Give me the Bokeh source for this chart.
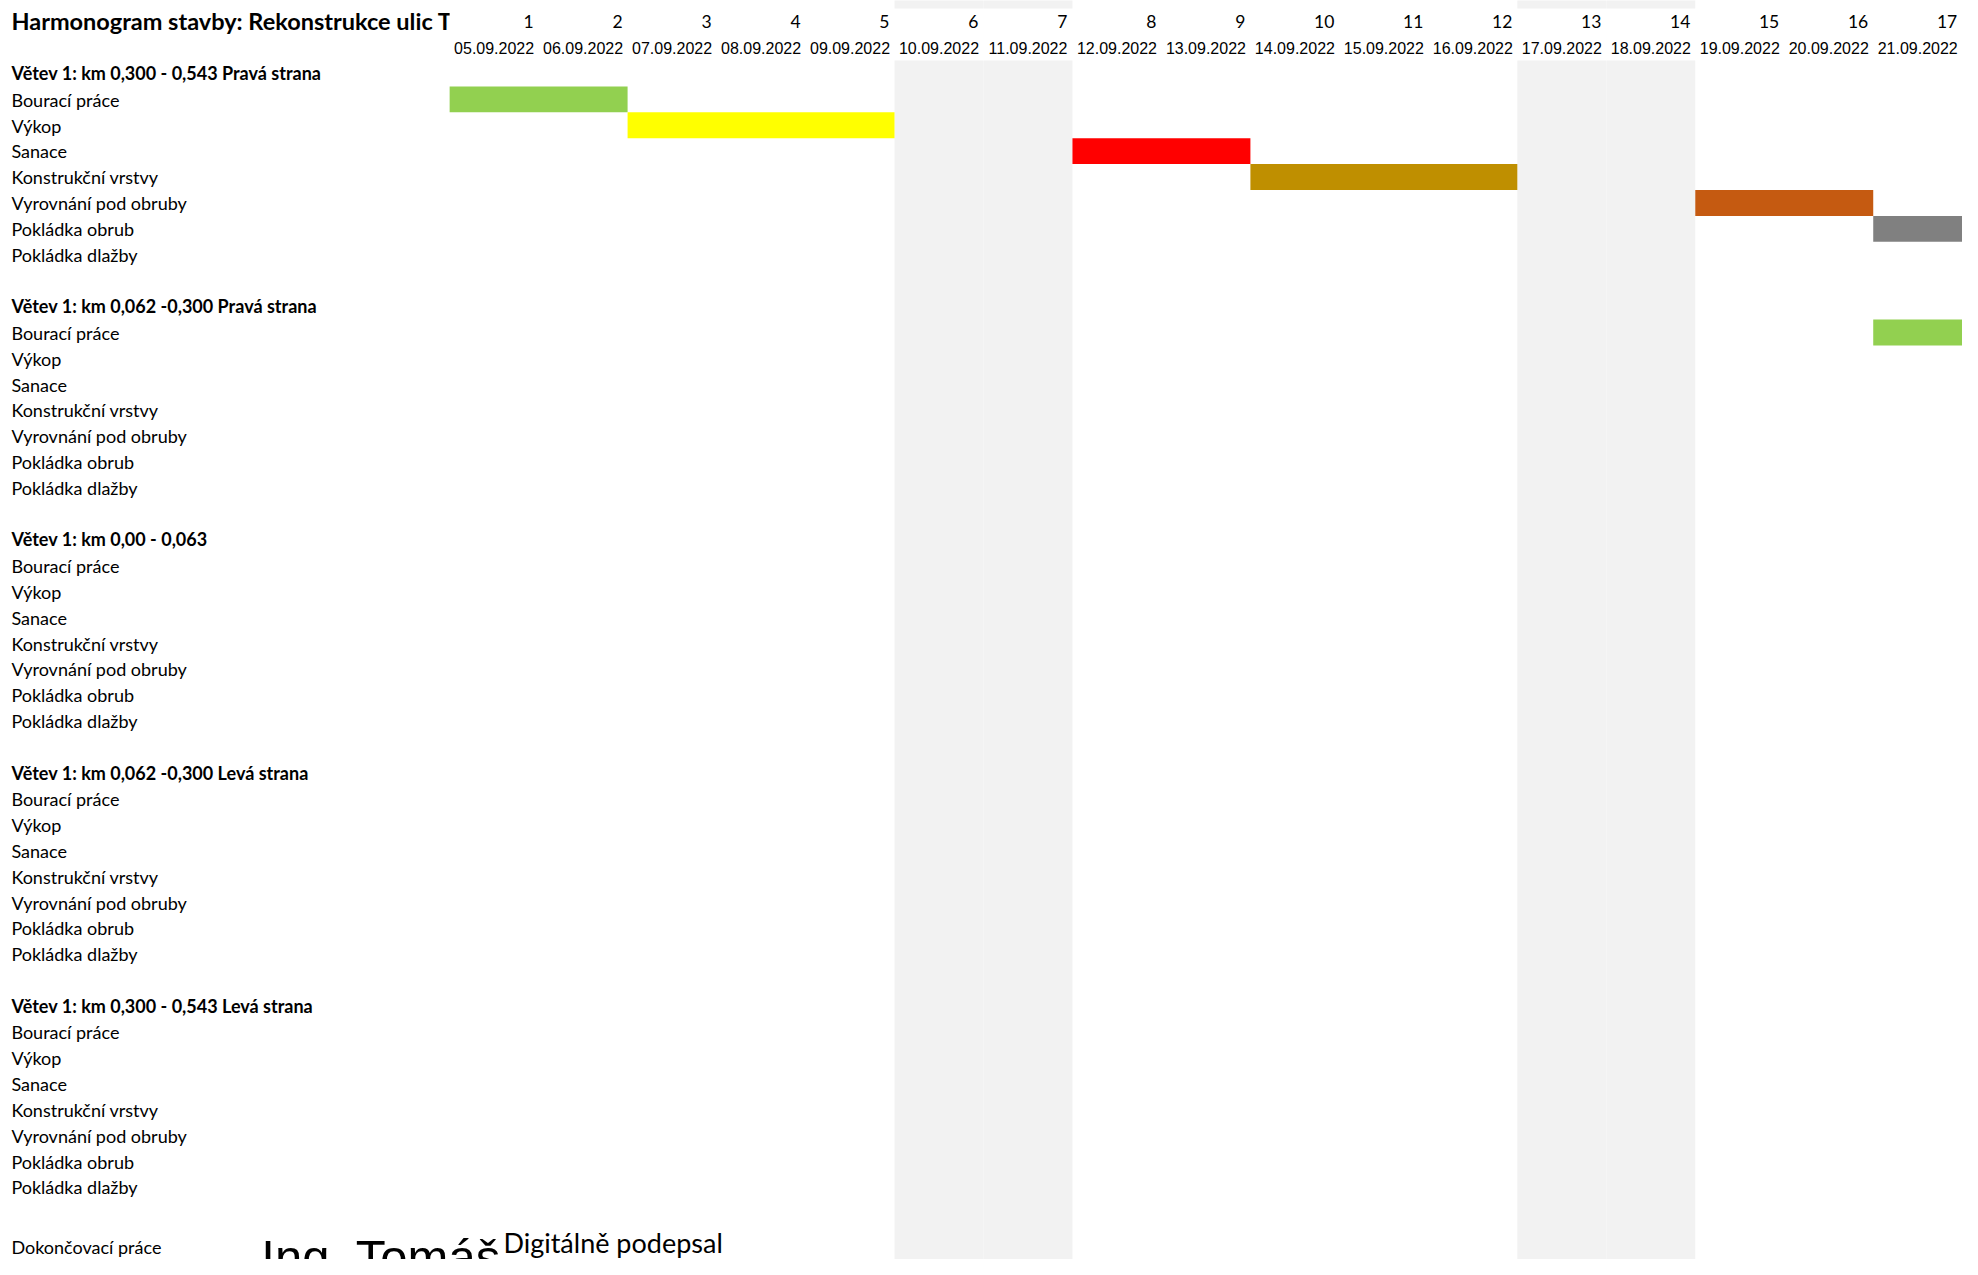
from bokeh.plotting import figure
from bokeh.models import Range1d, ColumnDataSource
from bokeh.core.properties import value
from bokeh.embed import file_html
from bokeh.resources import INLINE

# ---------------- data ----------------
title_text = "Harmonogram stavby: Rekonstrukce ulic Tr"
day_numbers = list(range(1, 18))
day_dates = ["05.09.2022", "06.09.2022", "07.09.2022", "08.09.2022", "09.09.2022",
             "10.09.2022", "11.09.2022", "12.09.2022", "13.09.2022", "14.09.2022",
             "15.09.2022", "16.09.2022", "17.09.2022", "18.09.2022", "19.09.2022",
             "20.09.2022", "21.09.2022"]
weekend_days = [6, 7, 13, 14]
section_titles = ["Větev 1: km 0,300 - 0,543 Pravá strana",
                  "Větev 1: km 0,062 -0,300 Pravá strana",
                  "Větev 1: km 0,00 - 0,063",
                  "Větev 1: km 0,062 -0,300 Levá strana",
                  "Větev 1: km 0,300 - 0,543 Levá strana"]
task_names = ["Bourací práce", "Výkop", "Sanace", "Konstrukční vrstvy",
              "Vyrovnání pod obruby", "Pokládka obrub", "Pokládka dlažby"]
bar_section = [0, 0, 0, 0, 0, 0, 1]
bar_task = [0, 1, 2, 3, 4, 5, 0]
bar_start_day = [1, 3, 8, 10, 15, 17, 17]
bar_end_day = [2, 5, 9, 12, 16, 17, 17]
bar_colors = ["#92D050", "#FFFF00", "#FF0000", "#BF8F00", "#C55A11", "#808080", "#92D050"]
final_task = "Dokončovací práce"
signature_name = "Ing. Tomáš"
signature_note = "Digitálně podepsal"

# ---------------- layout ----------------
PX_X0, PX_DX = 452.8, 89.7   # reference pixel of day grid start, column width
PX_Y0, PX_DY = 60.0, 25.9    # reference pixel of first row top, row height
ROWS_PER_SECTION = 9
W, H = 1962, 1259
K_TXT = 7.5 / 18.0           # baseline correction per px of font size


def ux(px):
    return (px - PX_X0) / PX_DX


def uy(py):
    return (py - PX_Y0) / PX_DY


def ty(py, size):
    return uy(py - K_TXT * size)


FONT = value("Lato")
DATE_FONT = value("Liberation Sans")

p = figure(width=W, height=H,
           x_range=Range1d(ux(0), ux(1978)), y_range=Range1d(uy(H), uy(0)),
           output_backend="svg", toolbar_location=None, min_border=0,
           x_axis_location=None, y_axis_location=None)
p.grid.visible = False
p.outline_line_color = None
p.background_fill_color = "white"
p.border_fill_color = "white"

# weekend shading (body)
n_we = len(weekend_days)
p.quad(left=[d - 1 for d in weekend_days], right=weekend_days,
       top=[0] * n_we, bottom=[uy(1300)] * n_we,
       fill_color="#F2F2F2", line_color=None)

# title (clipped by the grid cells)
p.text(x=[ux(11)], y=[ty(28.3, 18)], text=[title_text], text_font=FONT,
       text_font_style="bold", text_font_size="23.5px", text_align="left",
       text_baseline="alphabetic", text_color="black")
p.quad(left=[0], right=[17.5], top=[uy(-5)], bottom=[-1], fill_color="white", line_color=None)

# weekend shading (row above the header)
p.quad(left=[d - 1 for d in weekend_days], right=weekend_days,
       top=[uy(-5)] * n_we, bottom=[uy(8)] * n_we,
       fill_color="#F2F2F2", line_color=None)

# day numbers and dates
p.text(x=day_numbers, y=[ty(28.3, 18)] * len(day_numbers), text=[str(d) for d in day_numbers],
       text_font=FONT, text_font_size="17.5px", text_align="right", x_offset=-5,
       text_baseline="alphabetic", text_color="black")
p.text(x=[d - 0.5 for d in day_numbers], y=[ty(55, 18)] * len(day_numbers), text=day_dates,
       text_font=DATE_FONT, text_font_size="16px", text_align="center",
       text_baseline="alphabetic", text_color="black")

# row labels
hx, hy, ht = [], [], []
lx, ly, lt = [], [], []
shift = K_TXT * 18 / PX_DY
for s, title in enumerate(section_titles):
    r0 = s * ROWS_PER_SECTION
    hx.append(ux(11)); hy.append(r0 + 0.78 - shift); ht.append(title)
    for i, t in enumerate(task_names):
        lx.append(ux(11)); ly.append(r0 + 1 + i + 0.8 - shift); lt.append(t)
p.text(x=hx, y=hy, text=ht, text_font=FONT, text_font_style="bold", text_font_size="18px",
       text_align="left", text_baseline="alphabetic", text_color="black")
p.text(x=lx, y=ly, text=lt, text_font=FONT, text_font_size="18px",
       text_align="left", text_baseline="alphabetic", text_color="black")
p.text(x=[ux(11)], y=[ty(1254, 18)], text=[final_task], text_font=FONT, text_font_size="18px",
       text_align="left", text_baseline="alphabetic", text_color="black")

# bars
rows = [s * ROWS_PER_SECTION + 1 + t for s, t in zip(bar_section, bar_task)]
src = ColumnDataSource(dict(left=[d - 1 for d in bar_start_day], right=bar_end_day,
                            top=rows, bottom=[r + 1 for r in rows], color=bar_colors))
p.quad(left="left", right="right", top="top", bottom="bottom", fill_color="color",
       line_color=None, source=src)

# signature (cut by the page edge, as in the sheet)
p.text(x=[ux(263)], y=[ty(1277, 49)], text=[signature_name], text_font=value("Liberation Sans"),
       text_font_size="49px", text_align="left", text_baseline="alphabetic", text_color="black")
p.text(x=[ux(507)], y=[ty(1253, 27)], text=[signature_note], text_font=FONT,
       text_font_size="27px", text_align="left", text_baseline="alphabetic", text_color="black")

open("out.html", "w").write(file_html(p, INLINE))
